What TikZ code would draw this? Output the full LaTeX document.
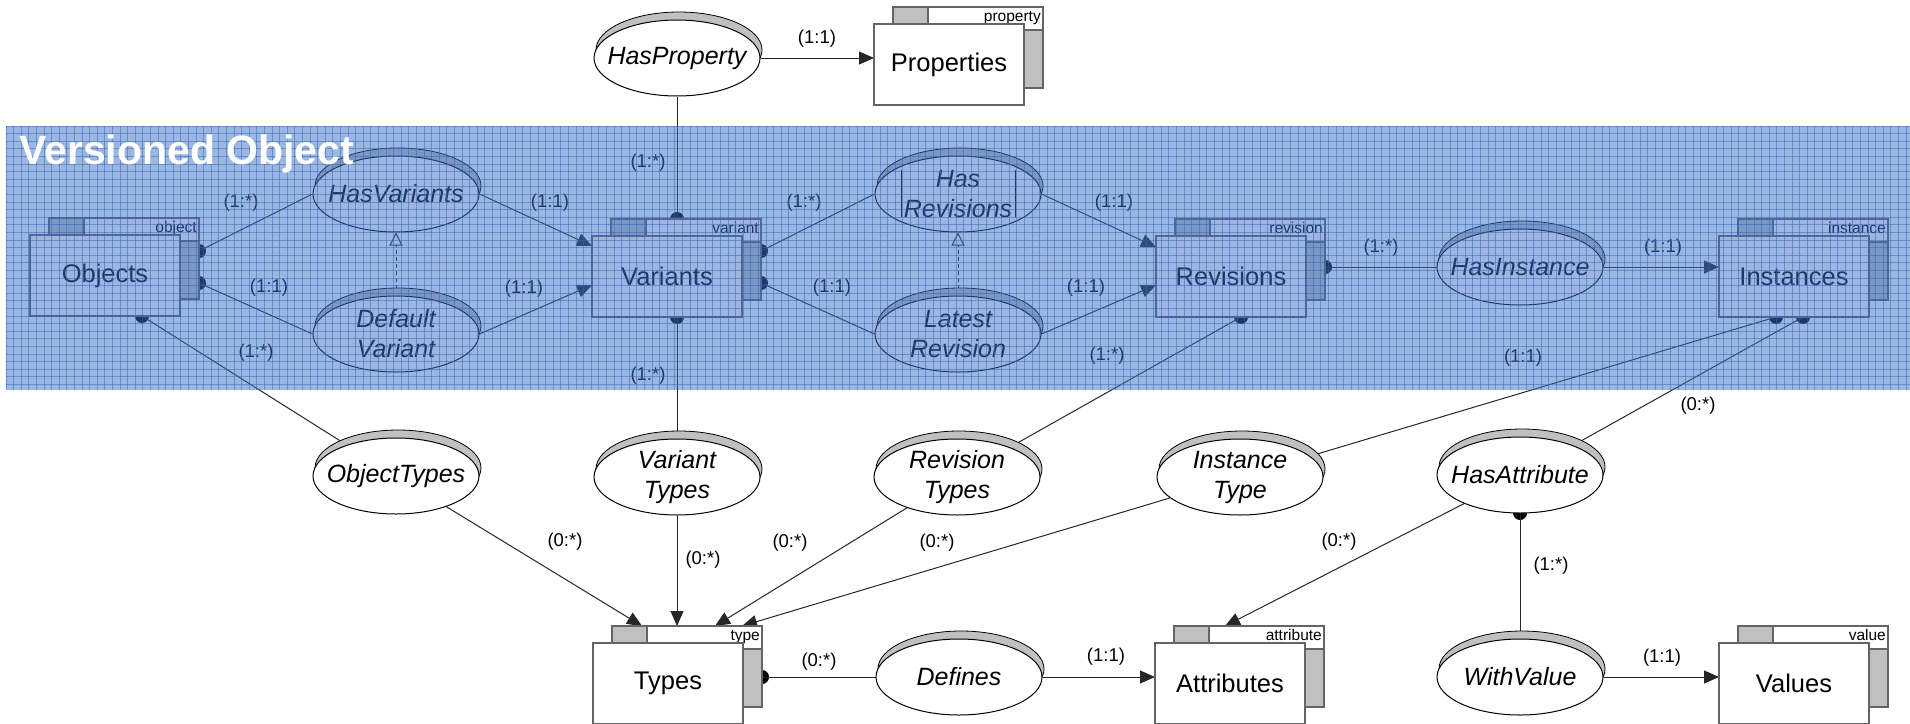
\documentclass[tikz,border=0pt]{standalone}
\usepackage{fontspec}
\setmainfont{Liberation Sans}
\usetikzlibrary{arrows.meta,shapes.geometric}
\pgfdeclarelayer{links}
\pgfsetlayers{links,main}

\definecolor{boxline}{RGB}{100,100,100}
\definecolor{tabgray}{RGB}{192,192,192}
\definecolor{band}{RGB}{58,111,192}
\definecolor{gridc}{RGB}{50,100,195}

\tikzset{
  ent/.style={rectangle, draw=boxline, line width=1.4pt, fill=white,
    minimum width=150pt, minimum height=81pt, inner sep=0pt,
    font=\fontsize{25.5}{30}\selectfont},
  entback/.style={draw=boxline, line width=1.2pt, fill=white},
  enttab/.style={draw=boxline, line width=1.2pt, fill=tabgray},
  tagtext/.style={anchor=base east, inner sep=0pt, font=\fontsize{15.5}{17}\selectfont},
  rel/.style={ellipse, draw=black, line width=1pt, fill=white,
    minimum width=166pt, minimum height=76pt, inner sep=0pt},
  reltext/.style={align=center, inner sep=0pt, font=\fontsize{25}{30}\selectfont\itshape},
  relshadow/.style={draw=black, line width=0.8pt, fill=tabgray},
  card/.style={inner sep=0pt, font=\fontsize{18.5}{20}\selectfont},
  link/.style={draw=black!85, line width=1pt},
  arr/.style={link, -{Triangle[length=15pt,width=13pt]}},
  genlink/.style={link, dash pattern=on 4pt off 3pt,
    -{Triangle[length=13pt,width=13pt,fill=white]}},
  dotmark/.style={fill=black},
}

% entity: name, x, y (top-left of front box), label, tag
\newcommand{\erentity}[5]{%
  \path[entback] ({#2+19},{#3-17}) rectangle ({#2+169},{#3+64});
  \path[enttab] ({#2+19},{#3-17}) rectangle ({#2+54},{#3});
  \path[enttab] ({#2+150},{#3+6}) rectangle ({#2+169},{#3+64});
  \node[tagtext] (#1-tag) at ({#2+167},{#3-3}) {#5};
  \node[ent] (#1) at ({#2+75},{#3+40.5}) {#4};
}
% relationship: name, centre x, centre y, text
\newcommand{\errel}[4]{%
  \path[relshadow] ({#2+2},{#3-8}) ellipse [x radius=83pt, y radius=38pt];
  \node[rel] (#1) at (#2,#3) {};
  \node[reltext] (#1-t) at (#2,#3) {#4};
}

\begin{document}
\begin{tikzpicture}[x=1pt,y=-1pt]
\useasboundingbox (0,0) rectangle (1910,723);

% attachment points on the entities
\coordinate (o-r1) at (199,251);
\coordinate (o-r2) at (199,283);
\coordinate (o-b)  at (142,316);
\coordinate (v-t)  at (677,219);
\coordinate (v-r1) at (761,251);
\coordinate (v-r2) at (761,283);
\coordinate (v-b)  at (677,317);
\coordinate (v-l1) at (592,246);
\coordinate (v-l2) at (592,285);
\coordinate (r-l1) at (1156,247);
\coordinate (r-l2) at (1156,285);
\coordinate (r-r)  at (1325,267);
\coordinate (r-b)  at (1241,317);
\coordinate (i-l)  at (1719,267);
\coordinate (i-b1) at (1776,317);
\coordinate (i-b2) at (1803,317);
\coordinate (p-l)  at (874,58);
\coordinate (t-a1) at (642,626);
\coordinate (t-a2) at (677,626);
\coordinate (t-a3) at (715,626);
\coordinate (t-a4) at (742,626);
\coordinate (t-r)  at (762,677);
\coordinate (a-l)  at (1155,677);
\coordinate (a-t)  at (1225,626);
\coordinate (va-l) at (1719,677);
\coordinate (ha-b) at (1520,513);

% entities
\erentity{props}{874}{24}{Properties}{property}
\erentity{objs}{30}{235}{Objects}{object}
\erentity{vars}{592}{236}{Variants}{variant}
\erentity{revs}{1156}{236}{Revisions}{revision}
\erentity{insts}{1719}{236}{Instances}{instance}
\erentity{types}{593}{643}{Types}{type}
\erentity{attrs}{1155}{643}{Attributes}{attribute}
\erentity{vals}{1719}{643}{Values}{value}

% relationships
\errel{hp}{677}{58}{HasProperty}
\errel{hv}{396}{194}{HasVariants}
\errel{dv}{396}{334}{Default\\Variant}
\errel{hr}{958}{194}{Has\\Revisions}
\draw[black, line width=1pt] (901,170) -- (901,217) (1015,170) -- (1015,217);
\errel{lr}{958}{334}{Latest\\Revision}
\errel{hi}{1520}{267}{HasInstance}
\errel{ot}{396}{476}{ObjectTypes}
\errel{vt}{677}{477}{Variant\\Types}
\errel{rt}{957}{477}{Revision\\Types}
\errel{it}{1240}{477}{Instance\\Type}
\errel{ha}{1520}{475}{HasAttribute}
\errel{df}{959}{677}{Defines}
\errel{wv}{1520}{677}{WithValue}

% connectors, kept beneath the shapes
\begin{pgfonlayer}{links}
  \foreach \p in {o-r1,o-r2,o-b,v-t,v-r1,v-r2,v-b,r-r,r-b,i-b1,i-b2,t-r,ha-b}
    \fill[dotmark] (\p) circle (7pt);
  \draw[link] (hp) -- (v-t);
  \draw[arr]  (hp.east) -- (p-l);
  \draw[link] (o-r1) -- (hv.west);
  \draw[arr]  (hv.east) -- (v-l1);
  \draw[link] (o-r2) -- (dv.west);
  \draw[arr]  (dv.east) -- (v-l2);
  \draw[genlink] (dv) -- (hv.south);
  \draw[link] (v-r1) -- (hr.west);
  \draw[arr]  (hr.east) -- (r-l1);
  \draw[link] (v-r2) -- (lr.west);
  \draw[arr]  (lr.east) -- (r-l2);
  \draw[genlink] (lr) -- (hr.south);
  \draw[link] (r-r) -- (hi.west);
  \draw[arr]  (hi.east) -- (i-l);
  \draw[link] (o-b) -- (ot);
  \draw[arr]  (ot) -- (t-a1);
  \draw[link] (v-b) -- (vt);
  \draw[arr]  (vt) -- (t-a2);
  \draw[link] (r-b) -- (rt);
  \draw[arr]  (rt) -- (t-a3);
  \draw[link] (i-b1) -- (it);
  \draw[arr]  (it) -- (t-a4);
  \draw[link] (i-b2) -- (ha);
  \draw[arr]  (ha) -- (a-t);
  \draw[link] (ha-b) -- (wv);
  \draw[link] (t-r) -- (df.west);
  \draw[arr]  (df.east) -- (a-l);
  \draw[arr]  (wv.east) -- (va-l);
\end{pgfonlayer}

% cardinalities
\node[card] (c1)  at (648,163)  {(1:*)};
\node[card] (c2)  at (817,39)   {(1:1)};
\node[card] (c3)  at (241,203)  {(1:*)};
\node[card] (c4)  at (550,203)  {(1:1)};
\node[card] (c5)  at (269,288)  {(1:1)};
\node[card] (c6)  at (524,289)  {(1:1)};
\node[card] (c7)  at (804,203)  {(1:*)};
\node[card] (c8)  at (1114,203) {(1:1)};
\node[card] (c9)  at (832,288)  {(1:1)};
\node[card] (c10) at (1086,288) {(1:1)};
\node[card] (c11) at (1381,248) {(1:*)};
\node[card] (c12) at (1663,248) {(1:1)};
\node[card] (c13) at (256,353)  {(1:*)};
\node[card] (c14) at (565,542)  {(0:*)};
\node[card] (c15) at (648,376)  {(1:*)};
\node[card] (c16) at (703,560)  {(0:*)};
\node[card] (c17) at (1107,356) {(1:*)};
\node[card] (c18) at (790,543)  {(0:*)};
\node[card] (c19) at (1523,358) {(1:1)};
\node[card] (c20) at (937,543)  {(0:*)};
\node[card] (c21) at (1698,406) {(0:*)};
\node[card] (c22) at (1339,542) {(0:*)};
\node[card] (c23) at (1551,566) {(1:*)};
\node[card] (c24) at (1662,658) {(1:1)};
\node[card] (c25) at (819,662)  {(0:*)};
\node[card] (c26) at (1106,657) {(1:1)};

% translucent gridded band
\fill[band, opacity=0.5] (6,126) rectangle (1910,390);
\begin{scope}[gridc, line width=0.8pt, opacity=0.5]
  \foreach \i in {0,...,250} \draw ({6+7.6*\i},126) -- ({6+7.6*\i},390);
  \foreach \j in {0,...,34} \draw (6,{126+7.6*\j}) -- (1910,{126+7.6*\j});
\end{scope}
\node[anchor=base west, inner sep=0pt, text=white,
  font=\fontsize{41}{41}\selectfont\bfseries] (band-title) at (19,164) {Versioned Object};
\end{tikzpicture}
\end{document}
